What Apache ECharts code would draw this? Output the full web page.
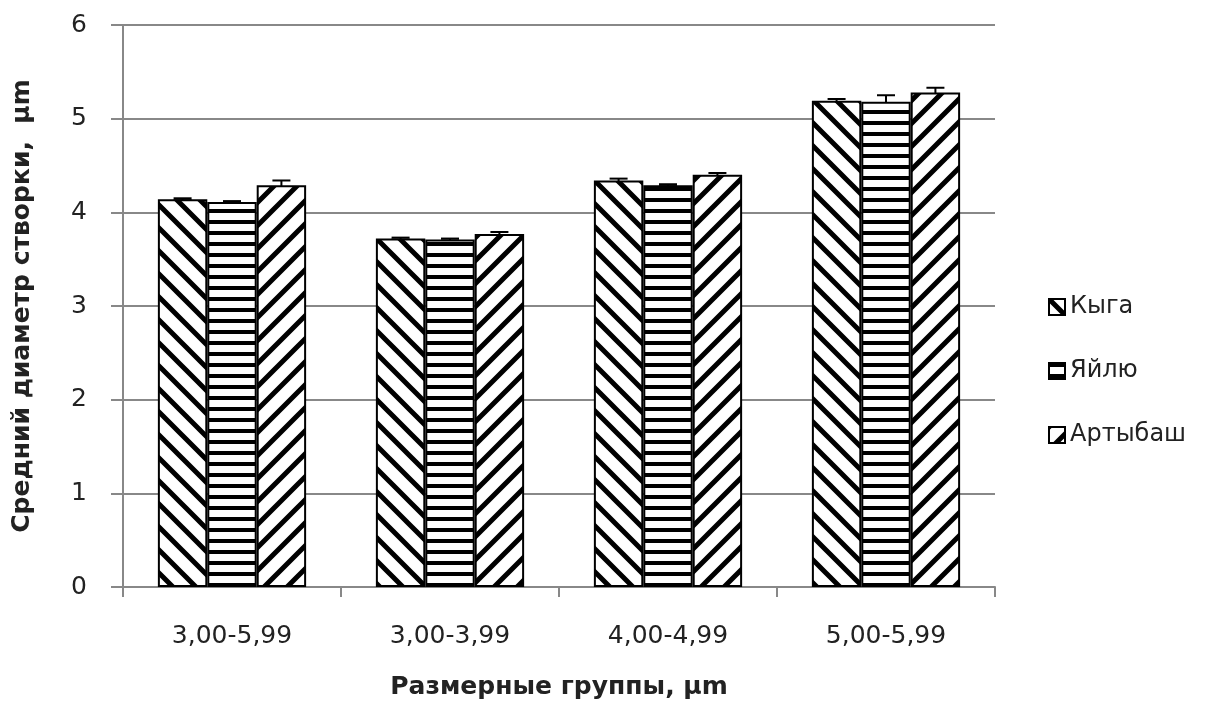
<!DOCTYPE html>
<html><head><meta charset="utf-8">
<script src="https://cdn.jsdelivr.net/npm/echarts@6/dist/echarts.min.js"></script>
<style>html,body{margin:0;padding:0;background:#fff}#c{width:1222px;height:702px}</style>
</head><body><div id="c"></div>
<script>
const categories = ['3,00-5,99', '3,00-3,99', '4,00-4,99', '5,00-5,99'];
const seriesNames = ['Кыга', 'Яйлю', 'Артыбаш'];
const kyga = [4.14, 3.72, 4.34, 5.19];
const yailyu = [4.11, 3.71, 4.29, 5.18];
const artybash = [4.29, 3.77, 4.40, 5.28];
const kygaErr = [0.01, 0.01, 0.02, 0.02];
const yailyuErr = [0.01, 0.01, 0.01, 0.07];
const artybashErr = [0.05, 0.02, 0.02, 0.05];
const yTicks = [0, 1, 2, 3, 4, 5, 6];

function makePattern(kind) {
  const s = kind === 'h' ? 11 : 23;
  const c = document.createElement('canvas');
  c.width = s; c.height = s;
  const g = c.getContext('2d');
  g.fillStyle = '#fff'; g.fillRect(0, 0, s, s);
  g.strokeStyle = '#000'; g.fillStyle = '#000';
  if (kind === 'h') {
    g.fillRect(0, 0, s, 4);
  } else {
    g.lineWidth = 5;
    g.beginPath();
    for (let k = -2; k <= 2; k++) {
      if (kind === 'b') { g.moveTo(k * s - s, -s); g.lineTo(k * s + 2 * s, 2 * s); }
      else { g.moveTo(k * s - s, 2 * s); g.lineTo(k * s + 2 * s, -s); }
    }
    g.stroke();
  }
  return { image: c, repeat: 'repeat' };
}
const patterns = [makePattern('b'), makePattern('h'), makePattern('f')];
const values = [kyga, yailyu, artybash];
const errs = [kygaErr, yailyuErr, artybashErr];

const FONT = 'DejaVu Sans';
const barSeries = values.map((v, i) => ({
  name: seriesNames[i], type: 'bar', data: v,
  barGap: '0%', barCategoryGap: '32%',
  itemStyle: { color: patterns[i], borderColor: '#000', borderWidth: 2 },
  emphasis: { disabled: true }, z: 3
}));

const nS = 3;
const errSeries = values.map((v, i) => ({
  type: 'custom', name: 'err' + i, z: 1,
  data: v.map((val, j) => [j, val, errs[i][j]]),
  renderItem: function (params, api) {
    const j = api.value(0), val = api.value(1), e = api.value(2);
    const bw = api.size([1, 0])[0];
    const barW = bw * (1 - 0.32) / nS;
    const cx = api.coord([j, val])[0] - bw * (1 - 0.32) / 2 + barW * (i + 0.5);
    const top = api.coord([j, val + e])[1];
    const bot = api.coord([j, val - e])[1];
    const cap = 9;
    return { type: 'group', children: [
      { type: 'line', shape: { x1: cx, y1: top, x2: cx, y2: bot }, style: { stroke: '#000', lineWidth: 2 } },
      { type: 'line', shape: { x1: cx - cap, y1: top, x2: cx + cap, y2: top }, style: { stroke: '#000', lineWidth: 2 } },
      { type: 'line', shape: { x1: cx - cap, y1: bot, x2: cx + cap, y2: bot }, style: { stroke: '#000', lineWidth: 2 } }
    ]};
  }
}));

const chart = echarts.init(document.getElementById('c'));
chart.setOption({
  animation: false,
  backgroundColor: '#fff',
  grid: { left: 123, right: 227, top: 25, bottom: 115, containLabel: false, outerBoundsMode: 'none' },
  legend: {
    data: seriesNames.map(n => ({ name: n, icon: 'rect' })), orient: 'vertical', left: 1043, top: 290,
    itemWidth: 16, itemHeight: 16, itemGap: 40,
    textStyle: { fontFamily: FONT, fontSize: 24, color: '#222' },
    selectedMode: false
  },
  xAxis: {
    type: 'category', data: categories,
    axisLine: { lineStyle: { color: '#888', width: 2 } },
    axisTick: { show: true, length: 10, lineStyle: { color: '#888', width: 2 } },
    axisLabel: { fontFamily: FONT, fontSize: 25, color: '#222', margin: 37 },
    name: 'Размерные группы, µm', nameLocation: 'middle', nameGap: 88,
    nameTextStyle: { fontFamily: FONT, fontSize: 25, fontWeight: 'bold', color: '#222' }
  },
  yAxis: {
    type: 'value', min: yTicks[0], max: yTicks[yTicks.length - 1], interval: 1,
    axisLine: { show: true, lineStyle: { color: '#888', width: 2 } },
    axisTick: { show: true, length: 12, lineStyle: { color: '#888', width: 2 } },
    splitLine: { lineStyle: { color: '#888', width: 2 } },
    axisLabel: { fontFamily: FONT, fontSize: 25, color: '#222', margin: 36 },
    name: 'Средний диаметр створки,  µm', nameLocation: 'middle', nameGap: 88,
    nameTextStyle: { fontFamily: FONT, fontSize: 25, fontWeight: 'bold', color: '#222' }
  },
  series: barSeries.concat(errSeries)
});
</script></body></html>
